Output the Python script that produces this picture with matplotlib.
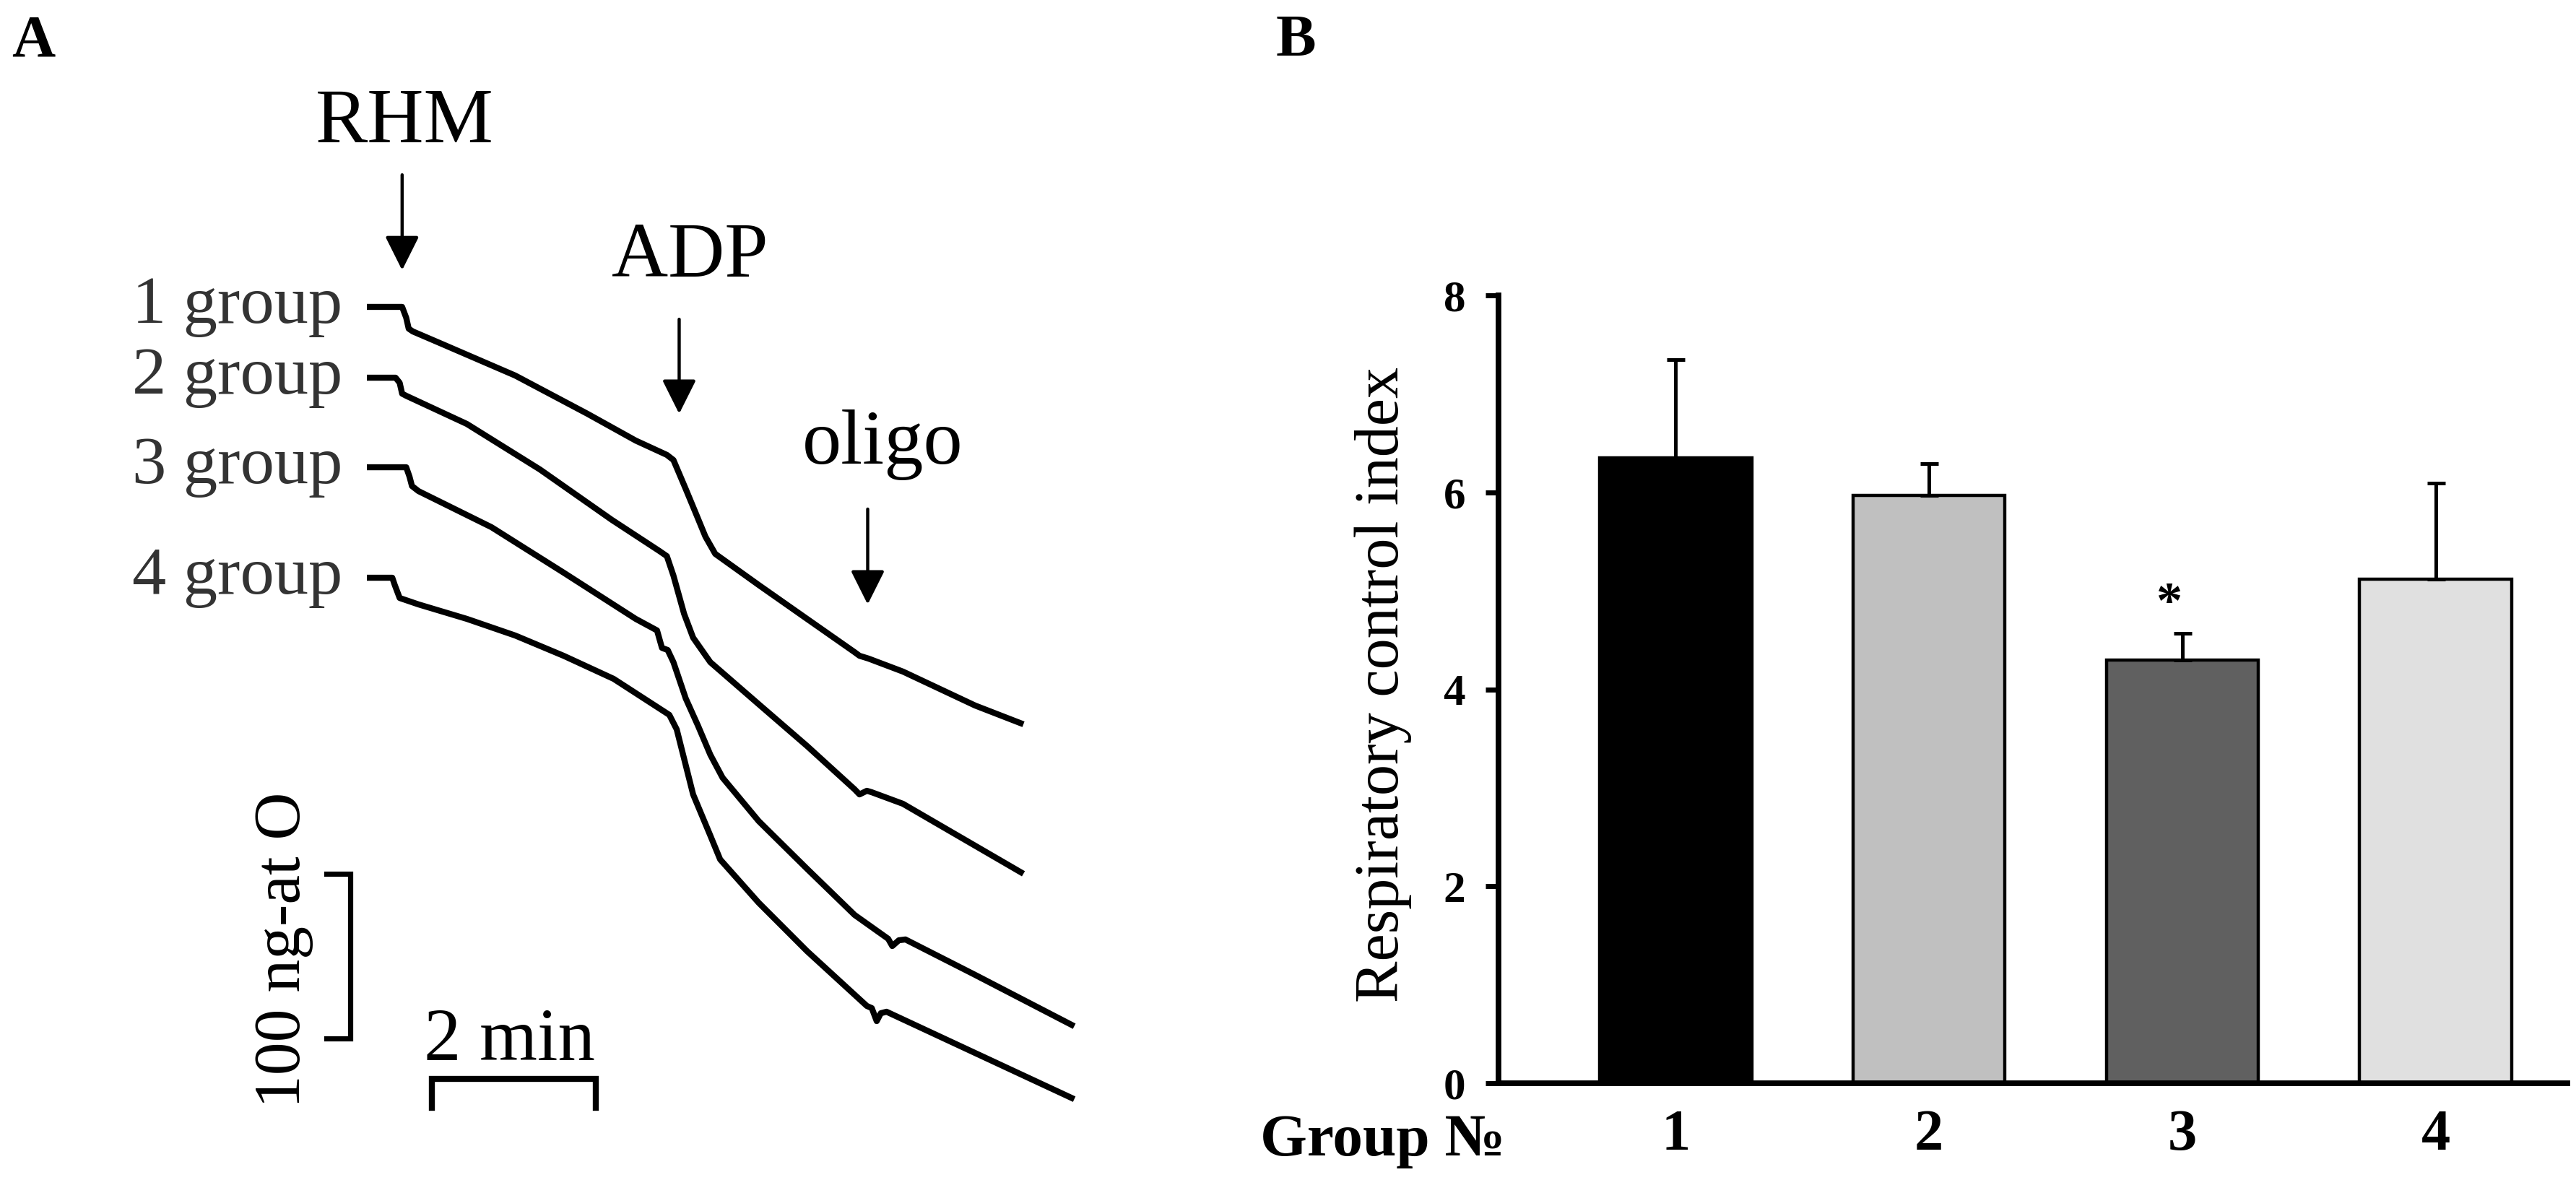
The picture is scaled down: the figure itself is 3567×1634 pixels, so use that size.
import matplotlib
matplotlib.use("Agg")
import matplotlib.pyplot as plt
import numpy as np

plt.rcParams["font.family"] = ["Liberation Serif", "DejaVu Serif"]

FIG_W_PX, FIG_H_PX, DPI = 3567, 1634, 200

# ---------------- panel A: polarographic traces ----------------
# time in min, oxygen in ng-at O
TRACE_LABELS = ["1 group", "2 group", "3 group", "4 group"]

T1_TIME = [0.00, 0.43, 0.48, 0.51, 0.56, 0.93, 1.81, 2.69, 3.28, 3.66, 3.74, 3.89,
           4.01, 4.13, 4.25, 4.78, 5.37, 5.95, 6.01, 6.12, 6.54, 7.42, 8.01]
T1_O2 = [530.3, 530.3, 523.7, 517.1, 515.4, 507.5, 488.6, 465.4, 449.1, 440.4, 437.3, 419.7,
         405.3, 390.8, 380.3, 361.4, 340.8, 320.6, 318.4, 316.7, 308.8, 288.2, 276.8]

T2_TIME = [0.00, 0.35, 0.40, 0.43, 0.48, 1.22, 2.11, 2.99, 3.57, 3.66, 3.74, 3.87,
           3.98, 4.19, 4.78, 5.37, 5.95, 6.01, 6.10, 6.16, 6.54, 8.01]
T2_O2 = [487.3, 487.3, 484.2, 477.6, 476.3, 459.2, 431.6, 400.9, 382.0, 378.9, 367.1, 343.9,
         329.4, 314.5, 289.0, 263.6, 237.3, 234.2, 236.4, 235.5, 228.5, 186.0]

T3_TIME = [0.00, 0.48, 0.52, 0.55, 0.63, 1.52, 2.40, 3.28, 3.54, 3.60, 3.67, 3.74, 3.89,
           4.04, 4.19, 4.34, 4.78, 5.37, 5.95, 6.36, 6.41, 6.49, 6.57, 7.42, 8.63]
T3_O2 = [432.9, 432.9, 427.2, 421.5, 418.4, 396.5, 368.9, 340.8, 333.8, 323.2, 321.9, 314.5, 292.5,
         275.9, 258.3, 244.3, 218.0, 189.0, 161.0, 146.5, 142.1, 145.6, 146.1, 124.6, 93.4]

T4_TIME = [0.00, 0.31, 0.34, 0.40, 0.63, 1.22, 1.81, 2.40, 3.01, 3.69, 3.78, 3.98,
           4.19, 4.31, 4.78, 5.37, 6.10, 6.16, 6.22, 6.27, 6.34, 8.63]
T4_O2 = [365.8, 365.8, 361.4, 353.5, 349.6, 340.8, 330.7, 318.4, 304.4, 282.5, 273.7, 234.2,
         209.2, 194.7, 168.4, 139.0, 105.7, 104.4, 96.5, 101.3, 102.2, 49.1]

# additions: name, time (min), arrow start / tip (ng-at O)
ADD_NAMES = ["RHM", "ADP", "oligo"]
ADD_TIME = [0.43, 3.81, 6.11]
ADD_FROM = [610.5, 522.8, 407.5]
ADD_TO = [552.6, 465.4, 349.6]
ADD_TEXT_POS = [(0.46, 630.3), (3.94, 548.7), (6.29, 435.1)]

SCALE_TIME_MIN = 2
SCALE_O2 = 100

# ---------------- panel B: respiratory control index ----------------
GROUPS = ["1", "2", "3", "4"]
RCI_MEAN = [6.35, 5.97, 4.30, 5.12]
RCI_ERR = [1.00, 0.32, 0.27, 0.97]
BAR_COLORS = ["#000000", "#c0c0c0", "#606060", "#e0e0e0"]
SIGNIFICANT = [False, False, True, False]


def px_to_fig(x_px, y_px):
    return x_px / FIG_W_PX, 1 - y_px / FIG_H_PX


fig = plt.figure(figsize=(FIG_W_PX / DPI, FIG_H_PX / DPI), dpi=DPI)

# ---- panel A
ax_a = fig.add_axes([0, 0, 1600 / FIG_W_PX, 1])
ax_a.set_xlim(-4.476, 9.621)
ax_a.set_ylim(0, 716.7)
ax_a.axis("off")

traces = [(T1_TIME, T1_O2), (T2_TIME, T2_O2), (T3_TIME, T3_O2), (T4_TIME, T4_O2)]
for (tt, oo), label in zip(traces, TRACE_LABELS):
    ax_a.plot(tt, oo, color="black", lw=3.0, solid_joinstyle="round", solid_capstyle="butt")
    ax_a.text(tt[0] - 0.30, oo[0] - 9.7, label, ha="right", va="baseline",
              fontsize=34, color="#333333")

for name, t, o0, o1, (tx, ty) in zip(ADD_NAMES, ADD_TIME, ADD_FROM, ADD_TO, ADD_TEXT_POS):
    ax_a.annotate("", xy=(t, o1), xytext=(t, o0),
                  arrowprops=dict(arrowstyle="-|>,head_length=0.58,head_width=0.29",
                                  mutation_scale=25, lw=1.6, color="black",
                                  shrinkA=0, shrinkB=0))
    ax_a.text(tx, ty, name, ha="center", va="baseline", fontsize=39, color="black")

# vertical scale bar (100 ng-at O)
vb_t, vb_tick, vb_bot = -0.20, -0.49, 86.0
ax_a.plot([vb_tick, vb_t, vb_t, vb_tick], [vb_bot, vb_bot, vb_bot + SCALE_O2, vb_bot + SCALE_O2],
          color="black", lw=2.6, solid_joinstyle="miter")
ax_a.text(-1.02, vb_bot + SCALE_O2 / 2 + 4, "100 ng-at O", rotation=90, ha="center",
          va="center", fontsize=33)

# horizontal scale bar (2 min)
hb_t0, hb_o, hb_tick = 0.79, 61.4, 43.9
ax_a.plot([hb_t0, hb_t0, hb_t0 + SCALE_TIME_MIN, hb_t0 + SCALE_TIME_MIN],
          [hb_tick, hb_o, hb_o, hb_tick], color="black", lw=3.0, solid_joinstyle="miter")
ax_a.text(hb_t0 + SCALE_TIME_MIN / 2 - 0.05, 72.8, "2 min", ha="center", va="baseline",
          fontsize=37)

# ---- panel B
ax_b = fig.add_axes([2075 / FIG_W_PX, (FIG_H_PX - 1500) / FIG_H_PX,
                     (3555 - 2075) / FIG_W_PX, (1500 - 409) / FIG_H_PX])
x = np.arange(len(GROUPS))
ax_b.bar(x, RCI_MEAN, width=0.6, color=BAR_COLORS, edgecolor="black", linewidth=1.6, zorder=2)
ax_b.errorbar(x, RCI_MEAN, yerr=[np.zeros(len(x)), RCI_ERR], fmt="none", ecolor="black",
              elinewidth=1.8, capsize=4.5, capthick=1.8, zorder=3)
for xi, m, e, sig in zip(x, RCI_MEAN, RCI_ERR, SIGNIFICANT):
    if sig:
        ax_b.text(xi - 0.05, m + e + 0.05, "*", ha="center", va="bottom", fontsize=26,
                  fontweight="bold")

ax_b.set_xlim(-0.70, 3.52)
ax_b.set_ylim(0, 8)
ax_b.set_yticks([0, 2, 4, 6, 8])
ax_b.set_xticks(x)
ax_b.set_xticklabels(GROUPS, fontsize=29, fontweight="bold")
for lab in ax_b.get_yticklabels():
    lab.set_fontsize(22)
    lab.set_fontweight("bold")
ax_b.tick_params(axis="y", direction="out", length=6.5, width=2.5, pad=10)
ax_b.tick_params(axis="x", length=0, pad=13)
for side in ("top", "right"):
    ax_b.spines[side].set_visible(False)
for side in ("left", "bottom"):
    ax_b.spines[side].set_linewidth(2.8)

ax_b.text(0.006, -0.0917, "Group №", transform=ax_b.transAxes, ha="right", va="baseline",
          fontsize=30, fontweight="bold")

fx, fy = px_to_fig(1936, 948)
fig.text(fx, fy, "Respiratory control index", rotation=90, rotation_mode="anchor",
         ha="center", va="baseline", fontsize=31)

# panel letters
fx, fy = px_to_fig(16, 77)
fig.text(fx, fy, "A", ha="left", va="baseline", fontsize=30, fontweight="bold")
fx, fy = px_to_fig(1767, 77)
fig.text(fx, fy, "B", ha="left", va="baseline", fontsize=30, fontweight="bold")

fig.savefig("out.png", dpi=DPI)
